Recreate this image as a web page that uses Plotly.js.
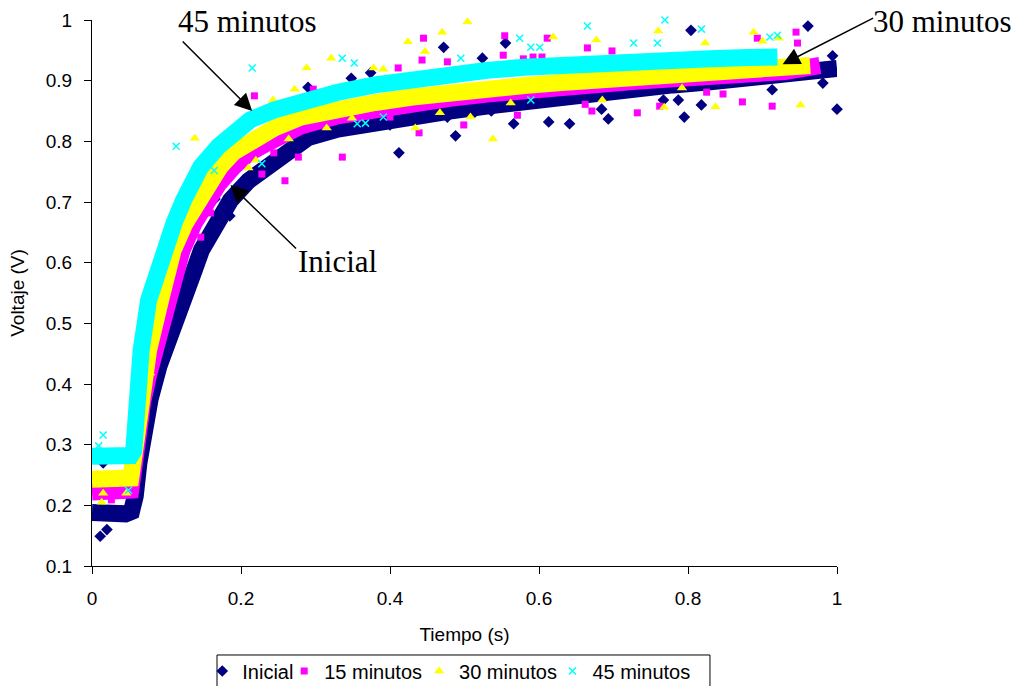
<!DOCTYPE html>
<html>
<head>
<meta charset="utf-8">
<script src="https://cdn.plot.ly/plotly-3.0.1.min.js"></script>
<style>
  html, body { margin: 0; padding: 0; background: #ffffff; }
  #chart { width: 1018px; height: 686px; }
</style>
</head>
<body>
<div id="chart"></div>
<script>
// ---- Data ----
const seriesNames = ['Inicial', '15 minutos', '30 minutos', '45 minutos'];

// Centre line of each dense band of points
const inicialBandX = [0, 0.015, 0.03, 0.045, 0.053, 0.058, 0.063, 0.068, 0.078, 0.09, 0.1, 0.11, 0.123, 0.135, 0.147, 0.165, 0.186, 0.21, 0.233, 0.26, 0.29, 0.33, 0.38, 0.43, 0.48, 0.53, 0.58, 0.63, 0.68, 0.73, 0.78, 0.83, 0.88, 0.93, 0.97, 1.0];
const inicialBandY = [0.188, 0.185, 0.187, 0.186, 0.19, 0.215, 0.27, 0.322, 0.375, 0.43, 0.46, 0.495, 0.538, 0.58, 0.621, 0.665, 0.703, 0.735, 0.758, 0.785, 0.806, 0.82, 0.832, 0.841, 0.85, 0.858, 0.866, 0.873, 0.88, 0.887, 0.893, 0.898, 0.903, 0.908, 0.915, 0.92];

const min15BandX = [0, 0.015, 0.03, 0.045, 0.052, 0.056, 0.061, 0.068, 0.076, 0.084, 0.1, 0.121, 0.137, 0.155, 0.17, 0.19, 0.21, 0.235, 0.28, 0.33, 0.38, 0.43, 0.48, 0.53, 0.58, 0.63, 0.68, 0.73, 0.78, 0.83, 0.88, 0.93, 0.977];
const min15BandY = [0.222, 0.222, 0.223, 0.222, 0.225, 0.26, 0.32, 0.37, 0.415, 0.456, 0.538, 0.621, 0.665, 0.703, 0.73, 0.758, 0.78, 0.797, 0.825, 0.842, 0.853, 0.862, 0.871, 0.878, 0.885, 0.89, 0.894, 0.899, 0.903, 0.906, 0.91, 0.915, 0.925];

const min30BandX = [0, 0.015, 0.03, 0.045, 0.052, 0.055, 0.06, 0.067, 0.076, 0.092, 0.109, 0.125, 0.143, 0.172, 0.19, 0.213, 0.245, 0.28, 0.33, 0.38, 0.43, 0.48, 0.53, 0.58, 0.63, 0.68, 0.73, 0.78, 0.83, 0.88, 0.93, 0.964];
const min30BandY = [0.243, 0.244, 0.242, 0.243, 0.245, 0.27, 0.33, 0.39, 0.456, 0.538, 0.621, 0.665, 0.703, 0.758, 0.782, 0.802, 0.822, 0.84, 0.854, 0.864, 0.873, 0.881, 0.887, 0.892, 0.897, 0.901, 0.905, 0.908, 0.911, 0.915, 0.92, 0.925];

const min45BandX = [0, 0.015, 0.03, 0.045, 0.052, 0.056, 0.06, 0.066, 0.076, 0.087, 0.098, 0.11, 0.123, 0.146, 0.17, 0.194, 0.212, 0.245, 0.28, 0.33, 0.38, 0.43, 0.48, 0.53, 0.58, 0.63, 0.68, 0.73, 0.78, 0.83, 0.88, 0.92];
const min45BandY = [0.281, 0.28, 0.281, 0.28, 0.282, 0.29, 0.36, 0.456, 0.538, 0.585, 0.621, 0.665, 0.703, 0.758, 0.792, 0.814, 0.835, 0.852, 0.866, 0.881, 0.893, 0.903, 0.911, 0.917, 0.922, 0.926, 0.929, 0.932, 0.934, 0.936, 0.938, 0.939];

// Scattered individual points away from the bands
const inicialPtsX = [0.011, 0.02, 0.015, 0.165, 0.185, 0.29, 0.348, 0.374, 0.4, 0.412, 0.472, 0.477, 0.488, 0.514, 0.524, 0.536, 0.555, 0.566, 0.613, 0.641, 0.684, 0.693, 0.767, 0.787, 0.795, 0.804, 0.818, 0.913, 0.961, 0.981, 0.994, 1.0];
const inicialPtsY = [0.149, 0.16, 0.27, 0.705, 0.677, 0.889, 0.904, 0.913, 0.827, 0.781, 0.955, 0.84, 0.809, 0.848, 0.937, 0.85, 0.962, 0.829, 0.832, 0.829, 0.853, 0.837, 0.868, 0.868, 0.84, 0.983, 0.86, 0.885, 0.99, 0.896, 0.941, 0.853];

const min15PtsX = [0.026, 0.146, 0.159, 0.218, 0.228, 0.244, 0.259, 0.277, 0.297, 0.336, 0.4, 0.411, 0.439, 0.443, 0.445, 0.477, 0.499, 0.552, 0.554, 0.571, 0.579, 0.592, 0.604, 0.611, 0.662, 0.665, 0.671, 0.698, 0.732, 0.762, 0.825, 0.847, 0.873, 0.893, 0.913, 0.945, 0.947];
const min15PtsY = [0.209, 0.642, 0.682, 0.875, 0.746, 0.781, 0.735, 0.774, 0.886, 0.774, 0.84, 0.921, 0.814, 0.934, 0.97, 0.931, 0.827, 0.942, 0.974, 0.843, 0.936, 0.939, 0.939, 0.97, 0.861, 0.954, 0.85, 0.949, 0.847, 0.858, 0.881, 0.878, 0.865, 0.97, 0.858, 0.98, 0.962];

const min30PtsX = [0.013, 0.015, 0.046, 0.078, 0.138, 0.21, 0.22, 0.243, 0.264, 0.272, 0.288, 0.315, 0.321, 0.349, 0.378, 0.391, 0.424, 0.434, 0.447, 0.467, 0.47, 0.504, 0.508, 0.538, 0.562, 0.619, 0.677, 0.685, 0.76, 0.768, 0.792, 0.823, 0.837, 0.888, 0.9, 0.922, 0.951];
const min30PtsY = [0.205, 0.22, 0.22, 0.418, 0.805, 0.756, 0.769, 0.868, 0.804, 0.886, 0.921, 0.822, 0.937, 0.838, 0.921, 0.919, 0.964, 0.822, 0.948, 0.847, 0.98, 0.997, 0.84, 0.804, 0.863, 0.972, 0.967, 0.868, 0.982, 0.856, 0.888, 0.962, 0.857, 0.98, 0.965, 0.97, 0.86];

const min45PtsX = [0.009, 0.015, 0.049, 0.113, 0.164, 0.215, 0.228, 0.336, 0.352, 0.356, 0.367, 0.391, 0.495, 0.574, 0.589, 0.601, 0.589, 0.665, 0.727, 0.759, 0.769, 0.818, 0.91, 0.92];
const min45PtsY = [0.298, 0.316, 0.225, 0.792, 0.752, 0.921, 0.763, 0.937, 0.929, 0.829, 0.83, 0.84, 0.937, 0.97, 0.955, 0.955, 0.868, 0.99, 0.962, 0.962, 1.0, 0.985, 0.972, 0.975];

const xTickVals = [0, 0.2, 0.4, 0.6, 0.8, 1];
const xTickText = ['0', '0.2', '0.4', '0.6', '0.8', '1'];
const yTickVals = [0.1, 0.2, 0.3, 0.4, 0.5, 0.6, 0.7, 0.8, 0.9, 1];
const yTickText = ['0.1', '0.2', '0.3', '0.4', '0.5', '0.6', '0.7', '0.8', '0.9', '1'];

// ---- Styling ----
const colors = ['#000080', '#FF00FF', '#FFFF00', '#00FFFF'];
const bands = [[inicialBandX, inicialBandY], [min15BandX, min15BandY], [min30BandX, min30BandY], [min45BandX, min45BandY]];
const pts = [[inicialPtsX, inicialPtsY], [min15PtsX, min15PtsY], [min30PtsX, min30PtsY], [min45PtsX, min45PtsY]];
const markers = [
  {symbol: 'diamond', size: 9, color: colors[0]},
  {symbol: 'square', size: 7, color: colors[1]},
  {symbol: 'triangle-up', size: 9, color: colors[2]},
  {symbol: 'x-thin-open', size: 7, color: colors[3], line: {color: colors[3], width: 1.5}}
];
const legendIds = ['legend', 'legend2', 'legend3', 'legend4'];
const legendX = [0.148, 0.258, 0.439, 0.618];   // paper positions of the four legend entries

const traces = [];
for (let i = 0; i < 4; i++) {
  traces.push({
    x: bands[i][0], y: bands[i][1], type: 'scatter', mode: 'lines',
    line: {color: colors[i], width: 17},
    showlegend: false, hoverinfo: 'skip', cliponaxis: false
  });
  traces.push({
    x: pts[i][0], y: pts[i][1], type: 'scatter', mode: 'markers',
    name: seriesNames[i], marker: markers[i], cliponaxis: false, legend: legendIds[i]
  });
}

const annFont = {family: 'Liberation Serif, Times New Roman, serif', size: 31, color: '#000000'};
const legendCommon = {
  orientation: 'h', xanchor: 'left', y: -0.1923, yanchor: 'middle',
  borderwidth: 0, bgcolor: 'rgba(0,0,0,0)', font: {size: 20}
};
const layout = {
  width: 1018, height: 686,
  margin: {l: 92, r: 181, t: 20, b: 120, autoexpand: false},
  paper_bgcolor: '#ffffff', plot_bgcolor: '#ffffff',
  font: {family: 'Liberation Sans, Arial, sans-serif', size: 19, color: '#000000'},
  xaxis: {
    range: [0, 1], tickvals: xTickVals, ticktext: xTickText,
    showgrid: false, zeroline: false, showline: true, linecolor: '#000000', linewidth: 1,
    ticks: 'outside', ticklen: 7, tickcolor: '#000000', ticklabelstandoff: 8,
    title: {text: 'Tiempo (s)', font: {size: 19}, standoff: 19}
  },
  yaxis: {
    range: [0.1, 1], tickvals: yTickVals, ticktext: yTickText,
    showgrid: false, zeroline: false, showline: true, linecolor: '#000000', linewidth: 1,
    ticks: 'outside', ticklen: 7, tickcolor: '#000000', ticklabelstandoff: 8,
    title: {text: 'Voltaje (V)', font: {size: 19}, standoff: 16}
  },
  showlegend: true,
  legend: Object.assign({}, legendCommon, {x: legendX[0]}),
  legend2: Object.assign({}, legendCommon, {x: legendX[1]}),
  legend3: Object.assign({}, legendCommon, {x: legendX[2]}),
  legend4: Object.assign({}, legendCommon, {x: legendX[3]}),
  shapes: [
    {type: 'rect', xref: 'paper', yref: 'paper', x0: 0.1678, x1: 0.8295, y0: -0.163, y1: -0.26,
     line: {color: '#000000', width: 1}, fillcolor: 'rgba(0,0,0,0)', layer: 'above'}
  ],
  annotations: [
    {x: 0.2085, y: 0.998, xref: 'paper', yref: 'paper', text: '45 minutos', showarrow: false, font: annFont, xanchor: 'center', yanchor: 'middle'},
    {x: 1.142, y: 0.998, xref: 'paper', yref: 'paper', text: '30 minutos', showarrow: false, font: annFont, xanchor: 'center', yanchor: 'middle'},
    {x: 0.329, y: 0.558, xref: 'paper', yref: 'paper', text: 'Inicial', showarrow: false, font: annFont, xanchor: 'center', yanchor: 'middle'},
    {x: 0.215, y: 0.85, xref: 'x', yref: 'y', text: '', showarrow: true, ax: -71, ay: -71, arrowhead: 2, arrowsize: 2.3, arrowwidth: 1.5, arrowcolor: '#000000', standoff: 0},
    {x: 0.186, y: 0.728, xref: 'x', yref: 'y', text: '', showarrow: true, ax: 67, ay: 65, arrowhead: 2, arrowsize: 2.3, arrowwidth: 1.5, arrowcolor: '#000000', standoff: 0},
    {x: 0.927, y: 0.927, xref: 'x', yref: 'y', text: '', showarrow: true, ax: 92, ay: -47, arrowhead: 2, arrowsize: 2.3, arrowwidth: 1.5, arrowcolor: '#000000', standoff: 0}
  ]
};

Plotly.newPlot('chart', traces, layout, {displayModeBar: false, staticPlot: true});
</script>
</body>
</html>
